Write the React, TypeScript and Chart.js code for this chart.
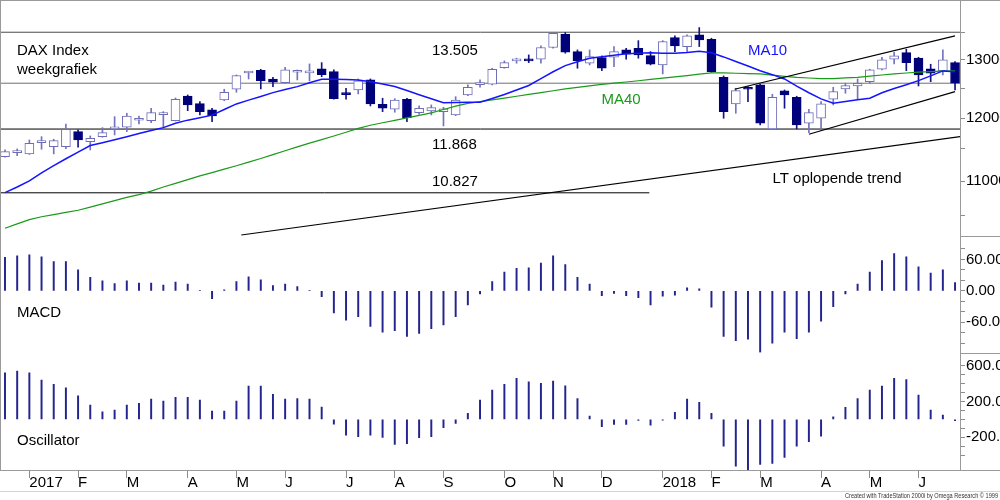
import React, { useEffect, useRef } from "react";
import { Chart, registerables } from "chart.js";

Chart.register(...registerables);

// ---------- data (weekly candles, Dec 2016 - Jun 2018) ----------
const openP = [
  11380, 11442, 11422, 11601, 11537, 11537, 11778, 11617, 11697, 11822,
  11850, 11964, 11958, 12057, 11958, 12371, 12241, 12135, 12303, 12486,
  12769, 12817, 12664, 12600, 12781, 12770, 12840, 12792, 12405, 12474,
  12647, 12231, 12147, 12315, 12090, 12118, 12107, 12052, 12388, 12565,
  12572, 12863, 12982, 13018, 13013, 13224, 13468, 13150, 12941, 13041,
  13048, 13180, 13210, 13077, 12911, 13405, 13241, 13455, 13376, 12694,
  12236, 12508, 12560, 11822, 12457, 12349, 11915, 11997, 12315, 12491,
  12543, 12617, 12834, 13013, 13131, 13031, 12840, 12810, 12952,
];
const highP = [
  11485, 11501, 11644, 11697, 11655, 11903, 11806, 11709, 11843, 12024,
  12080, 12035, 12164, 12107, 12337, 12388, 12274, 12164, 12486, 12734,
  12792, 12834, 12694, 12870, 12822, 12929, 12952, 12822, 12503, 12664,
  12664, 12332, 12325, 12332, 12202, 12219, 12180, 12359, 12560, 12647,
  12852, 12982, 13031, 13090, 13256, 13505, 13500, 13180, 13180, 13072,
  13243, 13210, 13350, 13150, 13350, 13437, 13455, 13592, 13394, 12717,
  12503, 12531, 12577, 12400, 12474, 12366, 12147, 12274, 12520, 12590,
  12664, 12834, 13048, 13139, 13192, 13048, 12923, 13180, 12970,
];
const lowP = [
  11370, 11395, 11414, 11496, 11422, 11506, 11528, 11485, 11688, 11725,
  11778, 11903, 11925, 11843, 11953, 12123, 12052, 11941, 12291, 12434,
  12664, 12491, 12531, 12590, 12647, 12630, 12704, 12315, 12315, 12405,
  12202, 12107, 12097, 11941, 12064, 12052, 11871, 12040, 12376, 12520,
  12560, 12852, 12941, 12952, 12941, 13213, 13121, 12852, 12911, 12810,
  12881, 13013, 13031, 12911, 12752, 13150, 13150, 13241, 12781, 11997,
  12080, 12274, 11887, 11822, 12164, 11822, 11762, 11806, 12219, 12417,
  12315, 12590, 12822, 12929, 12810, 12543, 12617, 12734, 12474,
];
const closeP = [
  11458, 11474, 11591, 11633, 11633, 11817, 11644, 11672, 11762, 11834,
  12035, 11974, 12090, 12069, 12315, 12219, 12107, 12035, 12434, 12722,
  12787, 12635, 12607, 12822, 12817, 12781, 12739, 12325, 12393, 12630,
  12236, 12164, 12303, 12007, 12164, 12174, 12152, 12303, 12520, 12577,
  12834, 12952, 12995, 12982, 13224, 13487, 13139, 12988, 13059, 12852,
  13150, 13102, 13090, 12923, 13332, 13253, 13437, 13363, 12792, 12107,
  12462, 12486, 11915, 12349, 12388, 11887, 12090, 12236, 12445, 12548,
  12590, 12822, 13000, 13072, 12952, 12734, 12764, 13000, 12590,
];
const ma10 = [
  10830, 10914, 11006, 11129, 11239, 11347, 11452, 11555, 11601, 11647,
  11697, 11748, 11796, 11843, 11915, 11966, 12007, 12049, 12143, 12236,
  12300, 12362, 12428, 12481, 12531, 12598, 12659, 12659, 12656, 12647,
  12614, 12576, 12534, 12464, 12393, 12325, 12258, 12259, 12263, 12264,
  12329, 12395, 12474, 12551, 12671, 12790, 12899, 12966, 13029, 13058,
  13086, 13110, 13120, 13131, 13120, 13120, 13133, 13155, 13128, 13054,
  12973, 12891, 12808, 12739, 12664, 12541, 12426, 12322, 12248, 12279,
  12306, 12332, 12426, 12500, 12563, 12635, 12717, 12805, 12792,
];
const ma40 = [
  10311, 10373, 10434, 10476, 10506, 10538, 10570, 10616, 10663, 10712,
  10758, 10801, 10852, 10914, 10969, 11025, 11082, 11133, 11185, 11238,
  11295, 11351, 11411, 11472, 11534, 11593, 11649, 11707, 11768, 11832,
  11882, 11923, 11962, 12002, 12044, 12087, 12143, 12200, 12246, 12274,
  12303, 12335, 12366, 12397, 12428, 12460, 12491, 12517, 12544, 12569,
  12590, 12611, 12633, 12656, 12677, 12700, 12722, 12747, 12771, 12769,
  12764, 12757, 12752, 12731, 12710, 12691, 12681, 12670, 12670, 12682,
  12693, 12712, 12733, 12754, 12768, 12782, 12794, 12800, 12805,
];
const macd = [
  64, 67, 69, 65, 56, 56, 40, 26, 19, 14,
  19, 15, 15, 11, 17, 13, 1, -15, 2, 18,
  27, 21, 10, 13, 8, 1, -11, -42, -56, -49,
  -68, -79, -76, -87, -81, -72, -65, -49, -27, -6,
  18, 36, 43, 44, 53, 67, 50, 26, 13, -9,
  -5, -9, -13, -27, -10, -8, 6, 4, -31, -87,
  -95, -92, -117, -100, -79, -91, -79, -58, -30, -6,
  13, 36, 58, 71, 65, 46, 34, 40, 16,
];
const osc = [
  521, 539, 521, 439, 391, 353, 264, 160, 86, 104,
  160, 179, 227, 205, 246, 246, 216, 93, 93, 205,
  372, 372, 279, 227, 234, 227, 138, -52, -175, -193,
  -175, -201, -279, -272, -205, -193, -93, -45, 67, 216,
  327, 391, 458, 420, 402, 428, 376, 234, 37, -82,
  -56, -56, -10, -63, -8, 78, 227, 190, 67, -298,
  -521, -565, -502, -491, -424, -298, -249, -186, 30, 134,
  234, 327, 372, 458, 446, 272, 104, 48, -15,
];

// x axis: week index of first week of each month
const monthTickIdx = [2, 6, 10, 15, 19, 23, 28, 32, 36, 41, 45, 49, 54, 58, 62, 67, 71, 75];
const monthTickLabels = ["2017", "F", "M", "A", "M", "J", "J", "A", "S", "O", "N", "D", "2018", "F", "M", "A", "M", "J"];

// right axes
const priceTicks = [10500, 11000, 11500, 12000, 12500, 13000, 13500];
const priceLabelled = [11000, 12000, 13000];
const macdTicks = [-100, -80, -60, -40, -20, 0, 20, 40, 60, 80];
const macdLabelled = [-60, 0, 60];
const oscTicks = [-400, -300, -200, -100, 0, 100, 200, 300, 400, 500, 600];
const oscLabelled = [-200, 200, 600];

// horizontal support / resistance levels
const levelValues = [13505, 12590, 11820, 10827];
const levelEndIdx = [78.5, 78.5, 78.5, 52.9];
const levelColors = ["#4a4a4a", "#707070", "#000000", "#000000"];

// trend lines (week index, index value)
const ltTrendX = [19.4, 78.45];
const ltTrendY = [10216, 11698];
const chanUpX = [59.9, 78.0];
const chanUpY = [12486, 13437];
const chanLowX = [66.0, 78.0];
const chanLowY = [11736, 12445];

const FONT = '"Liberation Sans", Arial, Helvetica, sans-serif';

export default function App() {
  const ref = useRef<HTMLCanvasElement>(null);

  useEffect(() => {
    const canvas = ref.current;
    if (!canvas) return;
    Chart.defaults.font.family = FONT;
    const idx = openP.map((_, i) => i);
    const up = idx.map((i) => closeP[i] >= openP[i]);

    const overlay = {
      id: "overlay",
      afterDraw(chart: any) {
        const ctx = chart.ctx as CanvasRenderingContext2D;
        const ca = chart.chartArea;
        const W = chart.width;
        const yM = chart.scales.yM;
        const yO = chart.scales.yO;
        ctx.save();
        const line = (x0: number, y0: number, x1: number, y1: number, c: string) => {
          ctx.strokeStyle = c;
          ctx.lineWidth = 1;
          ctx.beginPath();
          ctx.moveTo(x0, y0);
          ctx.lineTo(x1, y1);
          ctx.stroke();
        };
        line(0, 0.5, W, 0.5, "#9a9a9a");
        line(0.5, 0, 0.5, ca.bottom, "#9a9a9a");
        line(ca.right, Math.round(yM.top) + 0.5, W, Math.round(yM.top) + 0.5, "#9a9a9a");
        line(ca.right, Math.round(yO.top) + 0.5, W, Math.round(yO.top) + 0.5, "#9a9a9a");
        line(0, Math.round(ca.bottom) + 0.5, W, Math.round(ca.bottom) + 0.5, "#9a9a9a");
        line(0, 491.5, W, 491.5, "#d4d4d4");

        ctx.textAlign = "left";
        ctx.textBaseline = "alphabetic";
        ctx.font = `15px ${FONT}`;
        ctx.fillStyle = "#000";
        ctx.fillText("DAX Index", 17, 54.5);
        ctx.fillText("weekgrafiek", 17, 74);
        ctx.fillText("13.505", 432, 54.5);
        ctx.fillText("11.868", 432, 149);
        ctx.fillText("10.827", 432, 186);
        ctx.fillText("LT oplopende trend", 772.5, 182.5);
        ctx.fillText("MACD", 17, 316.5);
        ctx.fillText("Oscillator", 17, 445);
        ctx.fillStyle = "#1a9a1a";
        ctx.fillText("MA40", 601.5, 104);
        ctx.fillStyle = "#1414ff";
        ctx.fillText("MA10", 748, 54.5);

        const credit = "Created with TradeStation 2000i by Omega Research \u00a9 1999";
        ctx.font = `8px ${FONT}`;
        ctx.fillStyle = "#333";
        const w = ctx.measureText(credit).width;
        ctx.translate(998, 498);
        ctx.scale(153 / w, 1);
        ctx.textAlign = "right";
        ctx.fillText(credit, 0, 0);
        ctx.restore();
      },
    };

    const yAxisCommon = (ticks: number[], labelled: number[], fmt: (v: number) => string) => ({
      position: "right" as const,
      stack: "panels",
      bounds: "data" as const,
      beginAtZero: false,
      offset: false,
      grid: { drawOnChartArea: false, drawTicks: true, tickLength: 5, color: "#8c8c8c" },
      border: { display: true, color: "#9a9a9a" },
      ticks: {
        autoSkip: false,
        padding: 1,
        color: "#000",
        font: { family: FONT, size: 15 },
        callback: (v: any) => (labelled.indexOf(Number(v)) >= 0 ? fmt(Number(v)) : ""),
      },
      afterBuildTicks: (s: any) => {
        s.ticks = ticks.map((v) => ({ value: v }));
      },
      afterFit: (s: any) => {
        s.width = 40;
        s.paddingTop = 0;
        s.paddingBottom = 0;
      },
    });

    const levelSets = levelValues.map((v, k) => ({
      type: "line" as const,
      yAxisID: "yP",
      data: [
        { x: -1, y: v },
        { x: levelEndIdx[k], y: v },
      ],
      borderColor: levelColors[k],
      borderWidth: 1,
      pointRadius: 0,
      order: 10,
    }));

    const trend = (xs: number[], ys: number[]) => ({
      type: "line" as const,
      yAxisID: "yP",
      data: xs.map((x, k) => ({ x, y: ys[k] })),
      borderColor: "#000",
      borderWidth: 1.2,
      pointRadius: 0,
      order: 1,
    });

    const chart = new Chart(canvas, {
      type: "bar",
      data: {
        datasets: [
          ...levelSets,
          {
            type: "bar",
            yAxisID: "yP",
            data: idx.map((i) => ({ x: i, y: [lowP[i], highP[i]] })) as any,
            backgroundColor: idx.map((i) => (up[i] ? "#7474bd" : "#141485")),
            borderWidth: 0,
            barThickness: 1,
            grouped: false,
            order: 8,
          },
          {
            type: "bar",
            yAxisID: "yP",
            data: idx.map((i) => ({
              x: i,
              y: [Math.min(openP[i], closeP[i]), Math.max(openP[i], closeP[i])],
            })) as any,
            backgroundColor: idx.map((i) => (up[i] ? "#ffffff" : "#00007a")),
            borderColor: idx.map((i) => (up[i] ? "#6c6cb7" : "#00007a")),
            borderWidth: 1,
            borderSkipped: false,
            barThickness: 9,
            minBarLength: 2,
            grouped: false,
            order: 7,
          },
          {
            type: "line",
            yAxisID: "yP",
            data: idx.map((i) => ({ x: i, y: ma40[i] })),
            borderColor: "#1a9a1a",
            borderWidth: 1.2,
            pointRadius: 0,
            tension: 0,
            order: 5,
          },
          {
            type: "line",
            yAxisID: "yP",
            data: idx.map((i) => ({ x: i, y: ma10[i] })),
            borderColor: "#1414ff",
            borderWidth: 1.5,
            pointRadius: 0,
            tension: 0,
            order: 4,
          },
          trend(ltTrendX, ltTrendY),
          trend(chanUpX, chanUpY),
          trend(chanLowX, chanLowY),
          {
            type: "bar",
            yAxisID: "yM",
            data: idx.map((i) => ({ x: i, y: macd[i] })),
            backgroundColor: "#24248f",
            barThickness: 1.3,
            grouped: false,
            order: 6,
          },
          {
            type: "bar",
            yAxisID: "yO",
            data: idx.map((i) => ({ x: i, y: osc[i] })),
            backgroundColor: "#24248f",
            barThickness: 1.3,
            grouped: false,
            order: 6,
          },
        ] as any,
      },
      options: {
        responsive: false,
        animation: false,
        events: [],
        layout: { padding: { left: 1, top: 0, right: 0, bottom: 0 } },
        plugins: { legend: { display: false }, tooltip: { enabled: false }, title: { display: false } },
        scales: {
          x: {
            type: "linear",
            min: -0.3284,
            max: 78.407,
            bounds: "data",
            offset: false,
            grid: { display: true, drawOnChartArea: false, drawTicks: true, tickLength: 8, color: "#8c8c8c", offset: false },
            border: { display: false },
            ticks: {
              autoSkip: false,
              maxRotation: 0,
              minRotation: 0,
              align: "start",
              padding: -4,
              color: "#000",
              font: { family: FONT, size: 15 },
              callback: (v: any) => {
                const k = monthTickIdx.indexOf(Number(v));
                return k >= 0 ? monthTickLabels[k] : "";
              },
            },
            afterBuildTicks: (s: any) => {
              s.ticks = monthTickIdx.map((v) => ({ value: v }));
            },
            afterFit: (s: any) => {
              s.height = 30;
              s.paddingLeft = 0;
              s.paddingRight = 0;
            },
          },
          yP: {
            type: "logarithmic",
            min: 10202,
            max: 14118,
            stackWeight: 236,
            ...yAxisCommon(priceTicks, priceLabelled, (v) => String(v)),
          },
          yM: {
            type: "linear",
            min: -118,
            max: 104.8,
            stackWeight: 116.7,
            ...yAxisCommon(macdTicks, macdLabelled, (v) => v.toFixed(2)),
          },
          yO: {
            type: "linear",
            min: -565,
            max: 745,
            stackWeight: 117.3,
            ...yAxisCommon(oscTicks, oscLabelled, (v) => v.toFixed(2)),
          },
        } as any,
      },
      plugins: [overlay],
    });
    return () => chart.destroy();
  }, []);

  return (
    <div style={{ position: "fixed", left: 0, top: 0, width: 1000, height: 500, background: "#fff" }}>
      <canvas ref={ref} width={1000} height={500} style={{ display: "block", width: 1000, height: 500 }} />
    </div>
  );
}
